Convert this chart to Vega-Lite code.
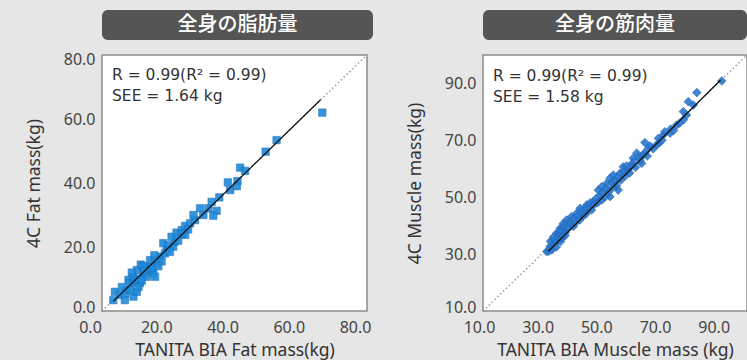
{
  "$schema": "https://vega.github.io/schema/vega-lite/v6.json",
  "background": "#e6e6e6",
  "padding": {"left": 24, "top": 10, "right": 0, "bottom": 0},
  "bounds": "flush",
  "columns": 2,
  "spacing": {"row": 15, "column": 110},
  "config": {
    "view": {"stroke": "#8c8c8c", "strokeWidth": 1.5, "fill": "white"},
    "axis": {
      "grid": false, "ticks": false, "domain": false,
      "labelFont": "Noto Sans", "labelFontSize": 16, "labelColor": "#444444",
      "titleFont": "Noto Sans", "titleFontSize": 17.5, "titleFontWeight": "normal", "titleColor": "#333333",
      "format": ".1f"
    },
    "axisX": {"labelPadding": 8, "titlePadding": 6, "labelFlush": false},
    "axisY": {"labelPadding": 7, "titlePadding": 20, "labelFlush": true, "labelFlushOffset": 4},
    "title": {"anchor": "start", "frame": "group", "font": "DejaVu Sans", "fontSize": 15.5, "fontWeight": "normal", "color": "#333333", "lineHeight": 21, "offset": -53, "dx": 10}
  },
  "datasets": {
    "fat": [
      {"x":3.4,"y":3.4},{"x":3.9,"y":6},{"x":5.4,"y":5},{"x":6.9,"y":3.4},{"x":7.5,"y":6.6},{"x":8,"y":9.7},{"x":8.5,"y":8.7},{"x":9.5,"y":10.7},{"x":9.5,"y":4.5},{"x":10.5,"y":6},{"x":10.5,"y":12.8},{"x":9,"y":12},{"x":11.5,"y":8.7},{"x":11.7,"y":14.5},{"x":12.5,"y":11.8},{"x":13.5,"y":13.8},{"x":13.5,"y":10.7},{"x":14.5,"y":15.9},{"x":14.5,"y":13},{"x":15.5,"y":11.8},{"x":16,"y":10.7},{"x":16.5,"y":14.9},{"x":17.5,"y":17},{"x":18,"y":15.5},{"x":18.5,"y":21.2},{"x":19.5,"y":19},{"x":21.5,"y":20.1},{"x":22,"y":21.7},{"x":21,"y":23.2},{"x":22.5,"y":24.5},{"x":24.1,"y":25.3},{"x":25.1,"y":23.8},{"x":25.1,"y":26.6},{"x":26.6,"y":27.4},{"x":28.1,"y":28.4},{"x":27.6,"y":30},{"x":29.6,"y":32.1},{"x":30.6,"y":30},{"x":32.1,"y":32.1},{"x":33.1,"y":34.1},{"x":34.6,"y":31.3},{"x":33.6,"y":29.8},{"x":35.4,"y":35.5},{"x":38.7,"y":37.8},{"x":38,"y":40.2},{"x":40.9,"y":40.6},{"x":40.7,"y":39},{"x":41.7,"y":44.8},{"x":43.2,"y":43.8},{"x":49.4,"y":49.8},{"x":52.7,"y":53.4},{"x":66.5,"y":62},
      {"x":6,"y":7.5},{"x":7,"y":5.5},{"x":8.5,"y":6.5},{"x":10,"y":9},{"x":11,"y":10},{"x":12,"y":9.5},{"x":12.5,"y":14},{"x":13,"y":12.5},{"x":15,"y":13.5},{"x":16,"y":16},{"x":17,"y":14},{"x":19,"y":18},{"x":20,"y":20.5},{"x":20.5,"y":18.5},{"x":23,"y":22},{"x":24,"y":24},{"x":26,"y":25.5},{"x":15.8,"y":17.4},{"x":11,"y":7.5}
    ],
    "fat_identity": [{"x":0,"y":0},{"x":80,"y":80}],
    "fat_fit": [{"x":3.4,"y":3.0},{"x":66,"y":66}],
    "muscle": [
      {"x":31.7,"y":30.9},{"x":32.8,"y":32.6},{"x":33.5,"y":31.5},{"x":34,"y":33.8},{"x":35.1,"y":34.4},{"x":36.8,"y":35.6},{"x":35.1,"y":37.3},{"x":36.3,"y":39.1},{"x":37.4,"y":40.8},{"x":38.5,"y":42},{"x":40.2,"y":43.2},{"x":42,"y":44.4},{"x":43.1,"y":46.1},{"x":45.4,"y":47.3},{"x":47.6,"y":48.4},{"x":50.5,"y":49},{"x":53.3,"y":50.2},{"x":56.1,"y":52.5},{"x":54.4,"y":53.7},{"x":49.3,"y":52.5},{"x":50.5,"y":53.7},{"x":52.2,"y":54.9},{"x":53.3,"y":56.7},{"x":54.4,"y":57.8},{"x":56.7,"y":58.4},{"x":59.5,"y":59.6},{"x":57.8,"y":60.7},{"x":60.7,"y":61.3},{"x":61.2,"y":63.7},{"x":64.1,"y":61.9},{"x":64.7,"y":64.9},{"x":62.4,"y":65.5},{"x":66.4,"y":67.2},{"x":65.2,"y":69.2},{"x":69.2,"y":68.4},{"x":69.8,"y":70.7},{"x":71.5,"y":71.9},{"x":73.8,"y":72.5},{"x":76,"y":75.4},{"x":78.3,"y":77.2},{"x":79.4,"y":78.9},{"x":78.3,"y":80.1},{"x":81.7,"y":82.4},{"x":80,"y":83.6},{"x":82.9,"y":86.8},{"x":91.4,"y":90.9},{"x":45.4,"y":44.9},{"x":40.8,"y":39.7},{"x":44.2,"y":43.5},
      {"x":33,"y":34.5},{"x":34.5,"y":35},{"x":35.5,"y":36},{"x":36,"y":37.8},{"x":37,"y":38},{"x":37.5,"y":39.5},{"x":38,"y":37.5},{"x":38.8,"y":40.5},{"x":39.5,"y":41.5},{"x":39,"y":39},{"x":40,"y":40.5},{"x":41,"y":42.5},{"x":41.5,"y":41},{"x":42.5,"y":43.5},{"x":43,"y":42},{"x":43.8,"y":45},{"x":44.5,"y":46},{"x":45,"y":44},{"x":46,"y":46.5},{"x":46.5,"y":48},{"x":47,"y":45.5},{"x":48,"y":47.5},{"x":48.5,"y":49.5},{"x":49,"y":48},{"x":50,"y":50.8},{"x":51,"y":51.5},{"x":51.5,"y":50},{"x":52,"y":53},{"x":53,"y":52},{"x":54,"y":55},{"x":55,"y":56},{"x":55.5,"y":54},{"x":56,"y":57},{"x":57,"y":56},{"x":58,"y":59},{"x":58.5,"y":57.5},{"x":59,"y":61},{"x":60,"y":58.5},{"x":61,"y":62},{"x":62,"y":60.5},{"x":63,"y":64},{"x":63.5,"y":63},{"x":65,"y":65.5},{"x":66,"y":64.5},{"x":67,"y":68},{"x":68,"y":67},{"x":70,"y":69},{"x":71,"y":70},{"x":72,"y":73},{"x":74,"y":74},{"x":75,"y":73.5},{"x":77,"y":76},{"x":36.5,"y":34.5},{"x":34,"y":36},{"x":33.5,"y":33},{"x":35,"y":32.5},{"x":32.5,"y":31},{"x":37,"y":36},{"x":38,"y":36.5}
    ],
    "muscle_identity": [{"x":10,"y":10},{"x":100,"y":100}],
    "muscle_fit": [{"x":32.3,"y":31},{"x":91,"y":91.2}],
    "h1": [{"t":"全身の脂肪量"}],
    "h2": [{"t":"全身の筋肉量"}]
  },
  "concat": [
    {
      "width": 271, "height": 30,
      "view": {"fill": "#555555", "stroke": null, "cornerRadius": 6},
      "data": {"name": "h1"},
      "mark": {"type": "text", "color": "white", "font": "Noto Sans CJK JP", "fontSize": 20, "fontWeight": 500, "align": "center", "baseline": "middle"},
      "encoding": {"text": {"field": "t"}}
    },
    {
      "width": 264, "height": 30,
      "view": {"fill": "#555555", "stroke": null, "cornerRadius": 6},
      "data": {"name": "h2"},
      "mark": {"type": "text", "color": "white", "font": "Noto Sans CJK JP", "fontSize": 20, "fontWeight": 500, "align": "center", "baseline": "middle"},
      "encoding": {"text": {"field": "t"}}
    },
    {
      "width": 265, "height": 256,
      "title": {"text": ["R = 0.99(R² = 0.99)", "SEE = 1.64 kg"]},
      "encoding": {
        "x": {"field": "x", "type": "quantitative", "scale": {"domain": [0, 80], "nice": false, "zero": false}, "axis": {"values": [0, 20, 40, 60, 80], "labelOffset": -12}, "title": "TANITA BIA Fat mass(kg)"},
        "y": {"field": "y", "type": "quantitative", "scale": {"domain": [0, 80], "nice": false, "zero": false}, "axis": {"values": [0, 20, 40, 60, 80]}, "title": "4C Fat mass(kg)"}
      },
      "layer": [
        {"data": {"name": "fat_identity"}, "mark": {"type": "line", "color": "#7f90a4", "strokeDash": [1.5, 2.5], "strokeWidth": 1.3}, "encoding": {}},
        {"data": {"name": "fat"}, "mark": {"type": "point", "shape": "square", "filled": true, "size": 55, "color": "#1e8ad8", "opacity": 0.9, "stroke": "#1a6cbd", "strokeWidth": 0.6}, "encoding": {}},
        {"data": {"name": "fat_fit"}, "mark": {"type": "line", "color": "#111111", "strokeWidth": 1.3}, "encoding": {}}
      ]
    },
    {
      "width": 264, "height": 256,
      "title": {"text": ["R = 0.99(R² = 0.99)", "SEE = 1.58 kg"]},
      "encoding": {
        "x": {"field": "x", "type": "quantitative", "scale": {"domain": [10, 100], "nice": false, "zero": false}, "axis": {"values": [10, 30, 50, 70, 90], "labelOffset": -4}, "title": "TANITA BIA Muscle mass (kg)"},
        "y": {"field": "y", "type": "quantitative", "scale": {"domain": [10, 100], "nice": false, "zero": false}, "axis": {"values": [10, 30, 50, 70, 90]}, "title": "4C Muscle mass(kg)"}
      },
      "layer": [
        {"data": {"name": "muscle_identity"}, "mark": {"type": "line", "color": "#7f90a4", "strokeDash": [1.5, 2.5], "strokeWidth": 1.3}, "encoding": {}},
        {"data": {"name": "muscle"}, "mark": {"type": "point", "shape": "diamond", "filled": true, "size": 75, "color": "#2a78cf", "opacity": 0.9, "stroke": "#1c5fae", "strokeWidth": 0.6}, "encoding": {}},
        {"data": {"name": "muscle_fit"}, "mark": {"type": "line", "color": "#111111", "strokeWidth": 1.3}, "encoding": {}}
      ]
    }
  ]
}
